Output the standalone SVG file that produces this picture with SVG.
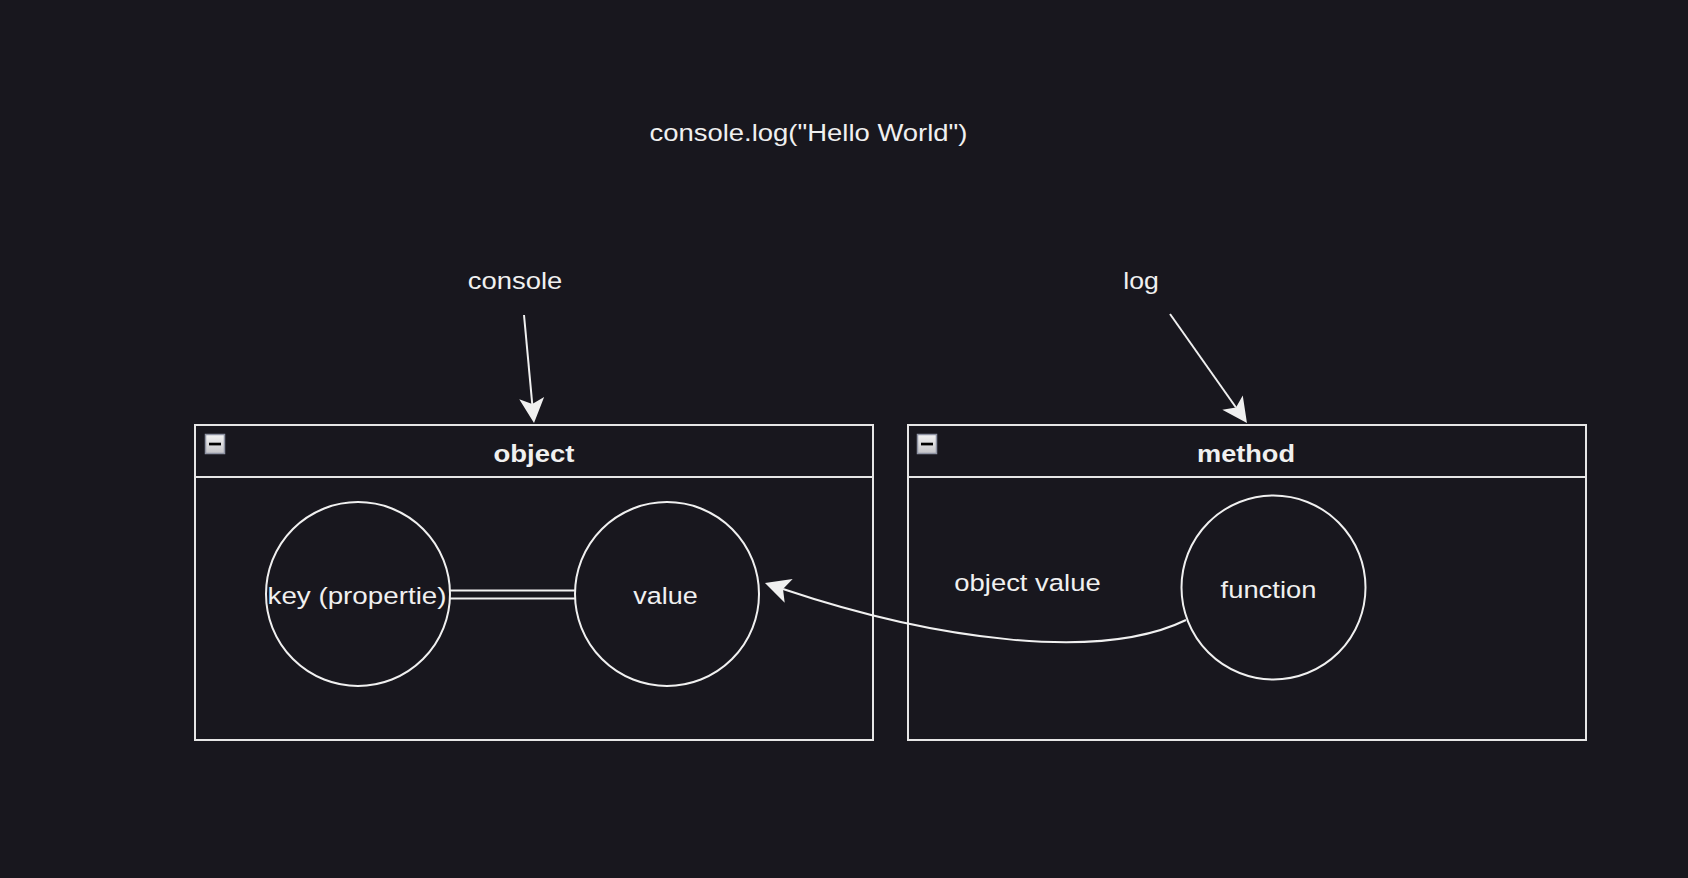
<svg xmlns="http://www.w3.org/2000/svg" width="1688" height="878" viewBox="0 0 1688 878">
<defs>
<style>
.t{font-family:"Liberation Sans",Arial,Helvetica,sans-serif;font-size:24.5px;fill:#f0f0f0;text-anchor:middle}
.b{font-weight:bold}
.box{fill:none;stroke:#e6e6e6;stroke-width:2}
.circ{fill:none;stroke:#f0f0f0;stroke-width:2}
.edge{fill:none;stroke:#f0f0f0;stroke-width:2}
.icon{stroke:#8e93a3;stroke-width:1.5;fill:url(#ig)}
</style>
<linearGradient id="ig" x1="0" y1="0" x2="0" y2="1">
<stop offset="0" stop-color="#f4f4f4"/>
<stop offset="1" stop-color="#c4c4c8"/>
</linearGradient>
<marker id="arr" markerUnits="userSpaceOnUse" viewBox="-26 -13 27 26" markerWidth="27" markerHeight="26" refX="-19" refY="0" orient="auto">
<path d="M0,0 L-25,-12.5 L-19,0 L-25,12.5 Z" fill="#f0f0f0"/>
</marker>
</defs>
<rect x="0" y="0" width="1688" height="878" fill="#18171e"/>

<g id="title"><text class="t" x="808.5" y="141" textLength="318" lengthAdjust="spacingAndGlyphs">console.log("Hello World")</text></g>
<g id="label-console"><text class="t" x="515" y="288.5" textLength="94.5" lengthAdjust="spacingAndGlyphs">console</text></g>
<g id="label-log"><text class="t" x="1141" y="289" textLength="35.5" lengthAdjust="spacingAndGlyphs">log</text></g>

<g id="object">
<rect class="box" x="195" y="425" width="678" height="315"/>
<line class="box" x1="195" y1="477" x2="873" y2="477"/>
<rect class="icon" x="205.5" y="434.5" width="19" height="19"/>
<rect x="209" y="442.7" width="12" height="2.7" fill="#000"/>
<text class="t b" x="534" y="461.5" textLength="81" lengthAdjust="spacingAndGlyphs">object</text>
</g>

<g id="method">
<rect class="box" x="908" y="425" width="678" height="315"/>
<line class="box" x1="908" y1="477" x2="1586" y2="477"/>
<rect class="icon" x="917.5" y="434.5" width="19" height="19"/>
<rect x="921" y="442.7" width="12" height="2.7" fill="#000"/>
<text class="t b" x="1246" y="461.5" textLength="98" lengthAdjust="spacingAndGlyphs">method</text>
</g>

<g id="key">
<circle class="circ" cx="358" cy="594" r="92"/>
<text class="t" x="357" y="604" textLength="179" lengthAdjust="spacingAndGlyphs">key (propertie)</text>
</g>

<g id="value">
<circle class="circ" cx="667" cy="594" r="92"/>
<text class="t" x="665.5" y="604" textLength="64.5" lengthAdjust="spacingAndGlyphs">value</text>
</g>

<g id="function">
<circle class="circ" cx="1273.5" cy="587.5" r="92"/>
<text class="t" x="1268.5" y="597.5" textLength="95.8" lengthAdjust="spacingAndGlyphs">function</text>
</g>

<g id="label-object-value"><text class="t" x="1027.5" y="590.5" textLength="146.4" lengthAdjust="spacingAndGlyphs">object value</text></g>

<g id="connectors">
<path class="edge" d="M524,315 L532.25,404.1" marker-end="url(#arr)"/>
<path class="edge" d="M1170,314 L1236,407.5" marker-end="url(#arr)"/>
<path class="edge" d="M1186,620 C1100,662 935,640 783,589" marker-end="url(#arr)"/>
<line class="edge" x1="450" y1="590.5" x2="575" y2="590.5"/>
<line class="edge" x1="450" y1="598.5" x2="575" y2="598.5"/>
</g>
</svg>
